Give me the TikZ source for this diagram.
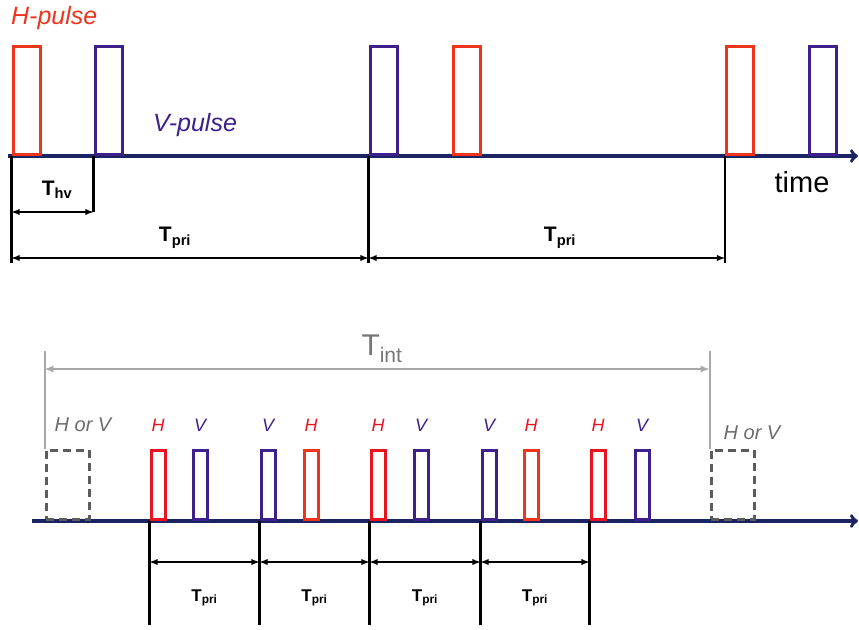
\documentclass[tikz,border=0pt]{standalone}
\usepackage{fontspec}
\setmainfont{Liberation Sans}
\usetikzlibrary{arrows,positioning,calc}
\definecolor{hred}{RGB}{238,52,28}
\definecolor{hredb}{RGB}{232,20,34}
\definecolor{vblue}{RGB}{62,32,140}
\definecolor{axisblue}{RGB}{26,36,98}
\definecolor{dashgray}{RGB}{92,92,92}
\definecolor{intgray}{RGB}{168,168,168}
\tikzset{
    pulse/.style={rectangle, line width=3.4pt, inner sep=0pt, anchor=south west},
    hbig/.style={pulse, draw=hred, minimum width=27pt, minimum height=108pt},
    vbig/.style={pulse, draw=vblue, minimum width=27pt, minimum height=108pt},
    hsmall/.style={pulse, draw=hredb, minimum width=14pt, minimum height=69pt},
    hsmallo/.style={pulse, draw=hred, minimum width=14pt, minimum height=69pt},
    vsmall/.style={pulse, draw=vblue, minimum width=14pt, minimum height=69pt},
    either/.style={pulse, draw=dashgray, dash pattern=on 8pt off 5pt, minimum width=43pt, minimum height=69pt},
    axisline/.style={draw=axisblue, line width=3.6pt, ->},
    tick/.style={draw=black, line width=2.8pt},
    dim/.style={draw=black, line width=1.8pt, latex-latex},
    intline/.style={draw=intgray, line width=2pt},
    hlabel/.style={text=hredb, font=\fontsize{18}{21}\selectfont\itshape, inner sep=0pt},
    vlabel/.style={text=vblue, font=\fontsize{18}{21}\selectfont\itshape, inner sep=0pt},
    eitherlabel/.style={text=dashgray!90, font=\fontsize{20}{24}\selectfont\itshape, inner sep=0pt},
    tlabel/.style={font=\fontsize{21}{25}\selectfont\bfseries, inner sep=0pt},
    tsmall/.style={font=\fontsize{17}{20}\selectfont\bfseries, inner sep=0pt}
}

\begin{document}
\begin{tikzpicture}[x=1pt, y=-1pt]
  \useasboundingbox (0,0) rectangle (859,629);

  % top train
  \coordinate (topstart) at (8,156);
  \coordinate (topend) at (858,156);
  \coordinate (thv) at (0,212);
  \coordinate (tpri) at (0,258);
  \coordinate (toptick) at (0,263);
  \draw [axisline] (topstart) -- (topend);

  \node [hbig] (h1) at (11.5,156) {};
  \node [vbig] (v1) at (93.5,156) {};
  \node [vbig] (v2) at (368.5,156) {};
  \node [hbig] (h2) at (451.5,156) {};
  \node [hbig] (h3) at (725,156) {};
  \node [vbig] (v3) at (807.5,156) {};

  \draw [tick] (h1.south west) -- (h1.south west |- toptick);
  \draw [tick] (v1.south west) -- (v1.south west |- thv);
  \draw [tick] (v2.south west) -- (v2.south west |- toptick);
  \draw [tick] (h3.south west) -- (h3.south west |- toptick);

  \draw [dim] (h1.south west |- thv) -- (v1.south west |- thv);
  \draw [dim] (h1.south west |- tpri) -- (v2.south west |- tpri);
  \draw [dim] (v2.south west |- tpri) -- (h3.south west |- tpri);

  \node [text=hred, font=\fontsize{25}{30}\selectfont\itshape, anchor=west, inner sep=0pt] (hname) at (11,18) {H-pulse};
  \node [text=vblue, font=\fontsize{25}{30}\selectfont\itshape, inner sep=0pt] (vname) at (195,125) {V-pulse};
  \node [font=\fontsize{29}{34}\selectfont, inner sep=0pt] (timename) at (802,182) {time};
  \node [tlabel] (thvname) at (57,190) {T\textsubscript{hv}};
  \node [tlabel] (tpri1) at (175,238) {T\textsubscript{pri}};
  \node [tlabel] (tpri2) at (560,238) {T\textsubscript{pri}};

  % bottom train
  \coordinate (botstart) at (32,521);
  \coordinate (botend) at (858,521);
  \coordinate (bdim) at (0,562);
  \coordinate (blab) at (0,598);
  \coordinate (bottick) at (0,625);
  \coordinate (inttop) at (0,351);
  \coordinate (intarrow) at (0,369);
  \draw [axisline] (botstart) -- (botend);

  \node [either] (d1) at (44.5,521) {};
  \node [hsmall] (b1) at (149.5,521) {};
  \node [vsmall] (b2) at (191.5,521) {};
  \node [vsmall] (b3) at (259.5,521) {};
  \node [hsmallo] (b4) at (302.5,521) {};
  \node [hsmall] (b5) at (369.5,521) {};
  \node [vsmall] (b6) at (412.5,521) {};
  \node [vsmall] (b7) at (480.5,521) {};
  \node [hsmallo] (b8) at (522.5,521) {};
  \node [hsmall] (b9) at (589.5,521) {};
  \node [vsmall] (b10) at (633.5,521) {};
  \node [either] (d2) at (709.5,521) {};

  \foreach \p in {b1,b3,b5,b7,b9}
    \draw [tick] (\p.south west) -- (\p.south west |- bottick);

  \foreach \a/\b in {b1/b3,b3/b5,b5/b7,b7/b9} {
    \draw [dim] (\a.south west |- bdim) -- (\b.south west |- bdim);
    \node [tsmall] at ($(\a.south west |- blab)!0.5!(\b.south west |- blab)$) {T\textsubscript{pri}};
  }

  \draw [intline] (d1.north west) -- (d1.north west |- inttop);
  \draw [intline] (d2.north west) -- (d2.north west |- inttop);
  \draw [intline, latex-latex] (d1.north west |- intarrow) -- (d2.north west |- intarrow);
  \node [text=intgray!70!black, font=\fontsize{30}{34}\selectfont, inner sep=0pt] (tint) at (382,349) {T\textsubscript{int}};

  \node [hlabel, above=17pt of b1] {H};
  \node [vlabel, above=17pt of b2] {V};
  \node [vlabel, above=17pt of b3] {V};
  \node [hlabel, above=17pt of b4] {H};
  \node [hlabel, above=17pt of b5] {H};
  \node [vlabel, above=17pt of b6] {V};
  \node [vlabel, above=17pt of b7] {V};
  \node [hlabel, above=17pt of b8] {H};
  \node [hlabel, above=17pt of b9] {H};
  \node [vlabel, above=17pt of b10] {V};
  \node [eitherlabel] (eith1) at (83,425) {H or V};
  \node [eitherlabel] (eith2) at (752,433) {H or V};
\end{tikzpicture}
\end{document}
